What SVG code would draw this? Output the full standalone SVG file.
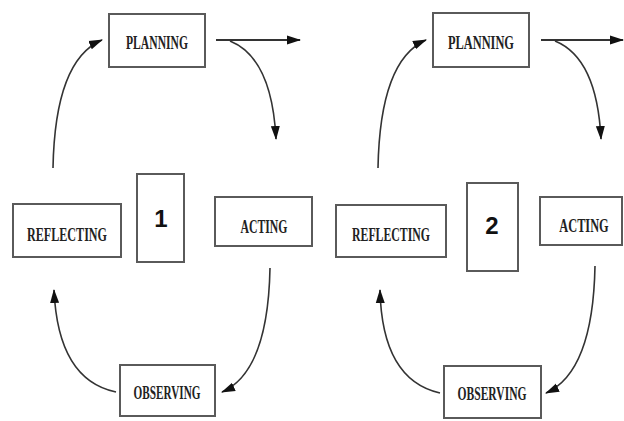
<svg xmlns="http://www.w3.org/2000/svg" width="624" height="421" viewBox="0 0 624 421">
<defs>
<marker id="ah" markerUnits="userSpaceOnUse" markerWidth="14" markerHeight="10" viewBox="0 0 14 10" refX="13" refY="5" orient="auto">
<path d="M0,0.5 L14,5 L0,9.5 z" fill="#111"/>
</marker>
<style>
.box{fill:#fff;stroke:#5a5a5a;stroke-width:2}
.lbl{font-family:"Liberation Serif","Times New Roman",serif;font-weight:bold;font-size:19px;fill:#222;text-anchor:middle}
.num{font-family:"Liberation Sans",Arial,sans-serif;font-weight:bold;font-size:24px;fill:#111;text-anchor:middle}
.con{fill:none;stroke:#333;stroke-width:1.6;marker-end:url(#ah)}
.hz{fill:none;stroke:#333;stroke-width:2.2;marker-end:url(#ah)}
</style>
</defs>
<rect width="624" height="421" fill="#fff"/>
<g id="connectors">
<path class="hz" d="M216,40 L300,40"/>
<path class="con" d="M230,41 Q272,58 276,139"/>
<path class="con" d="M53,168 Q55,60 102,40"/>
<path class="con" d="M116,392 Q58,380 54,290"/>
<path class="con" d="M270,268 Q268,372 222,392"/>
<path class="hz" d="M541,40 L623,40"/>
<path class="con" d="M555,41 Q597,58 601,139"/>
<path class="con" d="M378,168 Q380,60 426,40"/>
<path class="con" d="M440,393 Q382,380 380,290"/>
<path class="con" d="M595,266 Q593,372 546,393"/>
</g>
<g id="planning1"><rect class="box" x="109" y="14" width="96" height="53"/><text class="lbl" x="157" y="49" textLength="62" lengthAdjust="spacingAndGlyphs">PLANNING</text></g>
<g id="reflecting1"><rect class="box" x="13" y="204" width="108" height="53"/><text class="lbl" x="67" y="241" textLength="80" lengthAdjust="spacingAndGlyphs">REFLECTING</text></g>
<g id="cycle1"><rect class="box" x="137" y="174" width="47" height="88"/><text class="num" x="161" y="227">1</text></g>
<g id="acting1"><rect class="box" x="215" y="197" width="97" height="49"/><text class="lbl" x="264" y="233" textLength="47" lengthAdjust="spacingAndGlyphs">ACTING</text></g>
<g id="observing1"><rect class="box" x="120" y="365" width="95" height="51"/><text class="lbl" x="167" y="399" textLength="67" lengthAdjust="spacingAndGlyphs">OBSERVING</text></g>
<g id="planning2"><rect class="box" x="433" y="13" width="96" height="54"/><text class="lbl" x="481" y="49" textLength="66" lengthAdjust="spacingAndGlyphs">PLANNING</text></g>
<g id="reflecting2"><rect class="box" x="336" y="205" width="110" height="52"/><text class="lbl" x="391" y="241" textLength="78" lengthAdjust="spacingAndGlyphs">REFLECTING</text></g>
<g id="cycle2"><rect class="box" x="467" y="183" width="51" height="88"/><text class="num" x="492" y="234">2</text></g>
<g id="acting2"><rect class="box" x="540" y="197" width="82" height="48"/><text class="lbl" transform="translate(584,232) scale(0.65,1)" x="0" y="0">ACTING</text></g>
<g id="observing2"><rect class="box" x="444" y="366" width="97" height="52"/><text class="lbl" x="492" y="400" textLength="69" lengthAdjust="spacingAndGlyphs">OBSERVING</text></g>
</svg>
